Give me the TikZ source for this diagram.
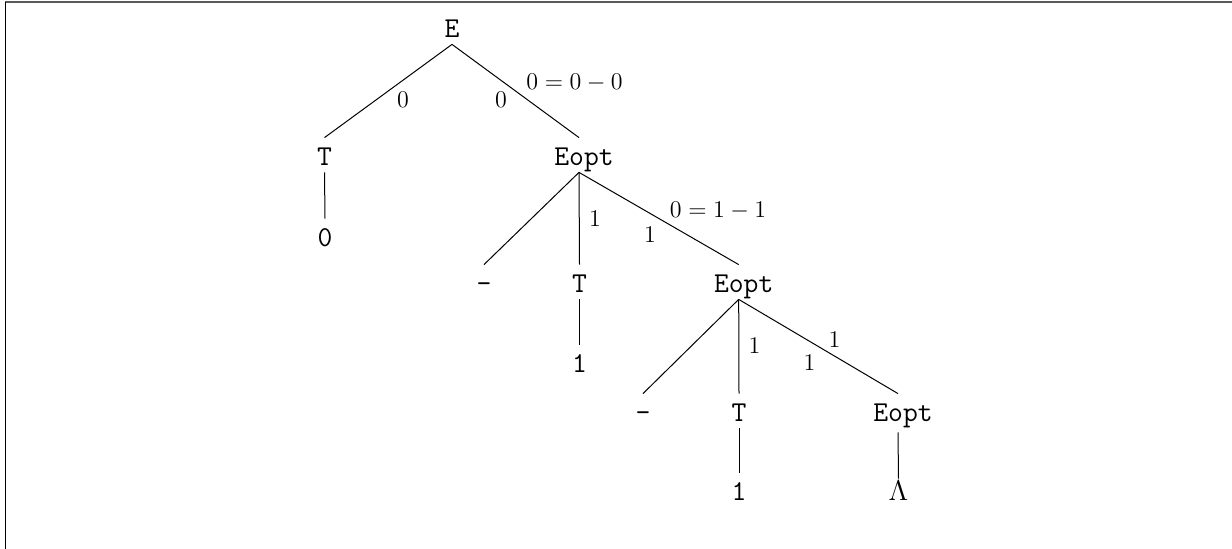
\documentclass[tikz,border=0pt]{standalone}
\begin{document}
\begin{tikzpicture}[x=0.5pt,y=-0.5pt,
  tn/.style={font=\fontsize{14.4}{17}\ttfamily, inner sep=0pt, text height=14pt, text depth=3pt, anchor=base},
  mn/.style={font=\fontsize{14}{17}\selectfont, inner sep=0pt, text height=14pt, text depth=3pt, anchor=base},
  lab/.style={font=\fontsize{12}{14}\selectfont, inner sep=0pt, anchor=base},
  edge/.style={line width=0.5pt, black},
  frameline/.style={line width=1pt, gray!70!black}]
\useasboundingbox (0,0) rectangle (1232,549);
\draw[frameline] (5,2.5) -- (1232,2.5);
\draw[line width=0.7pt, black] (5.5,2) -- (5.5,549);
% nodes
\node[tn] (E) at (452,38) {E};
\node[tn] (T1) at (324.5,166) {T};
\node[tn] (Eo1) at (579,166) {\makebox[0pt]{\hspace{5pt}Eopt}};
\node[tn] (z) at (325,247) {0};
\node[tn] (m1) at (484,293) {-};
\node[tn] (T2) at (579.5,293) {T};
\node[tn] (Eo2) at (738.7,293) {\makebox[0pt]{\hspace{5pt}Eopt}};
\node[tn] (o1) at (579.5,373) {1};
\node[tn] (m2) at (643,422) {-};
\node[tn] (T3) at (739,422) {T};
\node[tn, text depth=5pt] (Eo3) at (898,422) {\makebox[0pt]{\hspace{5pt}Eopt}};
\node[tn] (o2) at (739,501) {1};
\node[mn, text height=11pt] (L) at (898.5,501) {$\Lambda$};
% edges
\draw[edge] (E.south) -- (T1.north);
\draw[edge] (E.south) -- (Eo1.north);
\draw[edge] (T1.south) -- (z.north);
\draw[edge] (Eo1.south) -- (m1.north);
\draw[edge] (Eo1.south) -- (T2.north);
\draw[edge] (Eo1.south) -- (Eo2.north);
\draw[edge] (T2.south) -- (o1.north);
\draw[edge] (Eo2.south) -- (m2.north);
\draw[edge] (Eo2.south) -- (T3.north);
\draw[edge] (Eo2.south) -- (Eo3.north);
\draw[edge] (T3.south) -- (o2.north);
\draw[edge] (Eo3.south) -- (L.north);
% labels
\node[lab] (l1) at (403,108) {$0$};
\node[lab] (l2) at (501,108) {$0$};
\node[lab] (l3) at (574.5,90) {$0=0-0$};
\node[lab] (l4) at (595,227) {$1$};
\node[lab] (l5) at (650,243) {$1$};
\node[lab] (l6) at (718,218) {$0=1-1$};
\node[lab] (l7) at (754.5,354) {$1$};
\node[lab] (l8) at (809.5,371) {$1$};
\node[lab] (l9) at (834.5,348) {$1$};
\end{tikzpicture}
\end{document}
